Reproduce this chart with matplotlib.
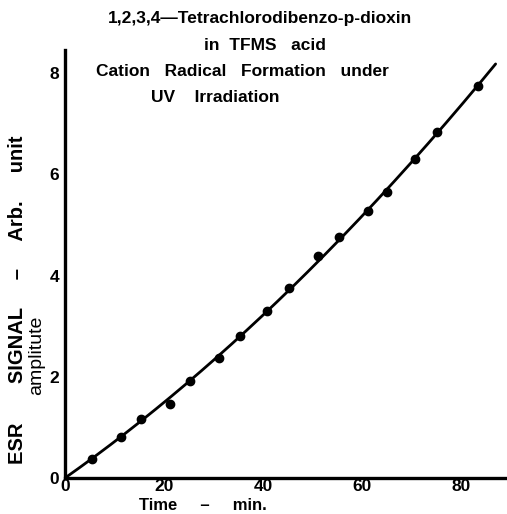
import matplotlib
matplotlib.use("Agg")
import matplotlib.pyplot as plt
import numpy as np

# ESR signal of the cation radical vs irradiation time
time_min = [5.4, 11.3, 15.4, 21.2, 25.3, 31.2, 35.4, 40.9, 45.3, 51.2,
            55.4, 61.3, 65.0, 70.8, 75.2, 83.4]
signal = [0.37, 0.81, 1.17, 1.46, 1.91, 2.38, 2.81, 3.31, 3.76, 4.39,
          4.77, 5.28, 5.65, 6.30, 6.83, 7.75]

xticks = [0, 20, 40, 60, 80]
yticks = [0, 2, 4, 6, 8]

title_lines = ["1,2,3,4\u2014Tetrachlorodibenzo-p-dioxin",
               "in  TFMS   acid",
               "Cation   Radical   Formation   under",
               "UV    Irradiation"]

W, H = 507, 514
fig = plt.figure(figsize=(W / 100, H / 100), dpi=100)
ax = fig.add_axes([65 / W, 36 / H, (W - 65) / W, (478 - 50) / H])

font = "Liberation Sans"

# smooth curve through the origin: least squares fit y = a*x + b*x^2
t = np.array(time_min)
s = np.array(signal)
A = np.vstack([t, t ** 2]).T
coef, *_ = np.linalg.lstsq(A, s, rcond=None)
tc = np.linspace(0, 87, 200)
ax.plot(tc, coef[0] * tc + coef[1] * tc ** 2, color="black", lw=2.0,
        solid_capstyle="round")
ax.plot(time_min, signal, "o", color="black", ms=6)

ax.set_xlim(0, 89.3)
ax.set_ylim(0, 8.46)
for side in ["top", "right"]:
    ax.spines[side].set_visible(False)
for side in ["left", "bottom"]:
    ax.spines[side].set_linewidth(2.4)
ax.set_xticks(xticks)
ax.set_yticks(yticks)
ax.tick_params(length=0, labelsize=12.5)
ax.tick_params(axis="x", pad=1)
ax.tick_params(axis="y", pad=4)
for lab in ax.get_xticklabels() + ax.get_yticklabels():
    lab.set_fontweight("bold")
    lab.set_fontfamily(font)

def px(x, y):
    return x / W, 1 - y / H

# title block
pos = [(260, 18), (265, 45), (242, 72), (215, 97)]
for line, (x, y) in zip(title_lines, pos):
    fig.text(*px(x, y), line, ha="center", va="center", fontsize=12.5,
             fontweight="bold", family=font)

fig.text(*px(203, 506), "Time     \u2013     min.", ha="center", va="center",
         fontsize=12, fontweight="bold", family=font)
fig.text(*px(18, 300), "ESR       SIGNAL     \u2013     Arb.     unit",
         rotation=90, ha="center", va="center", fontsize=14.5,
         fontweight="bold", family=font)
fig.text(*px(37, 355), "amplitute", rotation=90, ha="center", va="center",
         fontsize=14, family=font)

fig.savefig("out.png", dpi=100)
